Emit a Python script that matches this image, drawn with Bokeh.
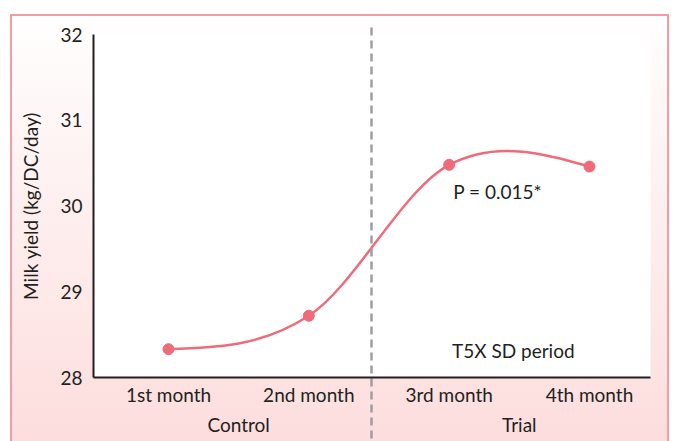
from bokeh.plotting import figure
from bokeh.models import (Range1d, LinearAxis, FixedTicker, ColumnDataSource,
                          InlineStyleSheet, Label)
from bokeh.embed import file_html
from bokeh.resources import INLINE

# ---------------- data ----------------
months = ["1st month", "2nd month", "3rd month", "4th month"]
groups = ["Control", "Trial"]
milk_yield = [28.33, 28.72, 30.48, 30.46]
y_ticks = [28, 29, 30, 31, 32]
p_text = "P = 0.015*"
period_text = "T5X SD period"
y_label = "Milk yield (kg/DC/day)"

# ---------------- styling ----------------
FONT = "Lato"
TXT = "#231f20"
PINK = "#ef6b7a"
GREY = "#9e9e9e"

x_pos = list(range(1, len(months) + 1))
group_pos = [1.5, 3.5]
divider = 2.45

# smooth curve: cubic Hermite (Catmull-Rom inside, natural ends) drawn as beziers
n = len(x_pos)
tang = [0.0] * n
for i in range(1, n - 1):
    tang[i] = (milk_yield[i + 1] - milk_yield[i - 1]) / (x_pos[i + 1] - x_pos[i - 1])
tang[0] = (3 * (milk_yield[1] - milk_yield[0]) / (x_pos[1] - x_pos[0]) - tang[1]) / 2
tang[-1] = (3 * (milk_yield[-1] - milk_yield[-2]) / (x_pos[-1] - x_pos[-2]) - tang[-2]) / 2

bz = dict(x0=[], y0=[], x1=[], y1=[], cx0=[], cy0=[], cx1=[], cy1=[])
for i in range(n - 1):
    h = x_pos[i + 1] - x_pos[i]
    bz["x0"].append(x_pos[i]); bz["y0"].append(milk_yield[i])
    bz["x1"].append(x_pos[i + 1]); bz["y1"].append(milk_yield[i + 1])
    bz["cx0"].append(x_pos[i] + h / 3); bz["cy0"].append(milk_yield[i] + tang[i] * h / 3)
    bz["cx1"].append(x_pos[i + 1] - h / 3); bz["cy1"].append(milk_yield[i + 1] - tang[i + 1] * h / 3)

p = figure(width=678, height=441,
           x_range=Range1d(0.4655, 4.435), y_range=Range1d(28, 32),
           output_backend="svg", toolbar_location=None, x_axis_type=None,
           min_border_left=93, min_border_right=28, min_border_top=34, min_border_bottom=64)

p.background_fill_color = "white"
p.border_fill_color = None
p.outline_line_color = None
p.ygrid.visible = False

p.stylesheets = [InlineStyleSheet(css="""
:host {
  background:
    linear-gradient(#fffefe, #fddcdc) 12px 16px / 655px 440px no-repeat,
    linear-gradient(#f29ca6, #f29ca6) 10px 14px / 659px 450px no-repeat,
    #ffffff;
}
""")]

# y axis
ya = p.yaxis[0]
ya.ticker = FixedTicker(ticks=y_ticks)
ya.major_tick_out = 0
ya.major_tick_in = 0
ya.minor_tick_out = 0
ya.minor_tick_in = 0
ya.axis_line_width = 2
ya.axis_line_color = TXT
ya.major_label_text_font = FONT
ya.major_label_text_font_size = "19px"
ya.major_label_text_color = TXT
ya.major_label_standoff = 11
ya.axis_label = y_label
ya.axis_label_text_font = FONT
ya.axis_label_text_font_size = "19px"
ya.axis_label_text_font_style = "normal"
ya.axis_label_text_color = TXT
ya.axis_label_standoff = 15

# x axis: months
xa = LinearAxis(ticker=FixedTicker(ticks=x_pos, minor_ticks=[]),
                major_label_overrides={xv: m for xv, m in zip(x_pos, months)})
xa.axis_line_width = 2
xa.axis_line_color = TXT
xa.major_tick_out = 0
xa.major_tick_in = 0
xa.minor_tick_in = 0
xa.minor_tick_out = 0
xa.major_label_text_font = FONT
xa.major_label_text_font_size = "19px"
xa.major_label_text_color = TXT
xa.major_label_standoff = 5
p.add_layout(xa, "below")

# x axis: groups
ga = LinearAxis(ticker=FixedTicker(ticks=group_pos, minor_ticks=[]),
                major_label_overrides={gv: g for gv, g in zip(group_pos, groups)})
ga.axis_line_color = None
ga.major_tick_line_color = None
ga.minor_tick_line_color = None
ga.major_tick_out = 0
ga.major_tick_in = 0
ga.minor_tick_out = 0
ga.minor_tick_in = 0
ga.major_label_text_font = FONT
ga.major_label_text_font_size = "19px"
ga.major_label_text_color = TXT
ga.major_label_standoff = 4
p.add_layout(ga, "below")

# divider: one dashed minor tick of a top axis, running from above the frame to the page bottom
ta = LinearAxis(ticker=FixedTicker(ticks=[], minor_ticks=[divider]))
ta.axis_line_color = None
ta.major_tick_line_color = None
ta.minor_tick_in = 410
ta.minor_tick_out = 7
ta.minor_tick_line_color = GREY
ta.minor_tick_line_width = 2.5
ta.minor_tick_line_dash = "8 5"
ta.major_label_text_font_size = "0px"
p.add_layout(ta, "above")

src = ColumnDataSource(bz)
p.bezier(x0="x0", y0="y0", x1="x1", y1="y1", cx0="cx0", cy0="cy0", cx1="cx1", cy1="cy1",
         source=src, line_color=PINK, line_width=2.5)
p.scatter(x_pos, milk_yield, size=11, color=PINK)

p.add_layout(Label(x=3.03, y=30.17, text=p_text, text_font=FONT, text_font_size="19px",
                   text_color=TXT, text_baseline="middle", text_align="left"))
p.add_layout(Label(x=3.02, y=28.31, text=period_text, text_font=FONT, text_font_size="19px",
                   text_color=TXT, text_baseline="middle", text_align="left"))

open("out.html", "w").write(file_html(p, INLINE))
